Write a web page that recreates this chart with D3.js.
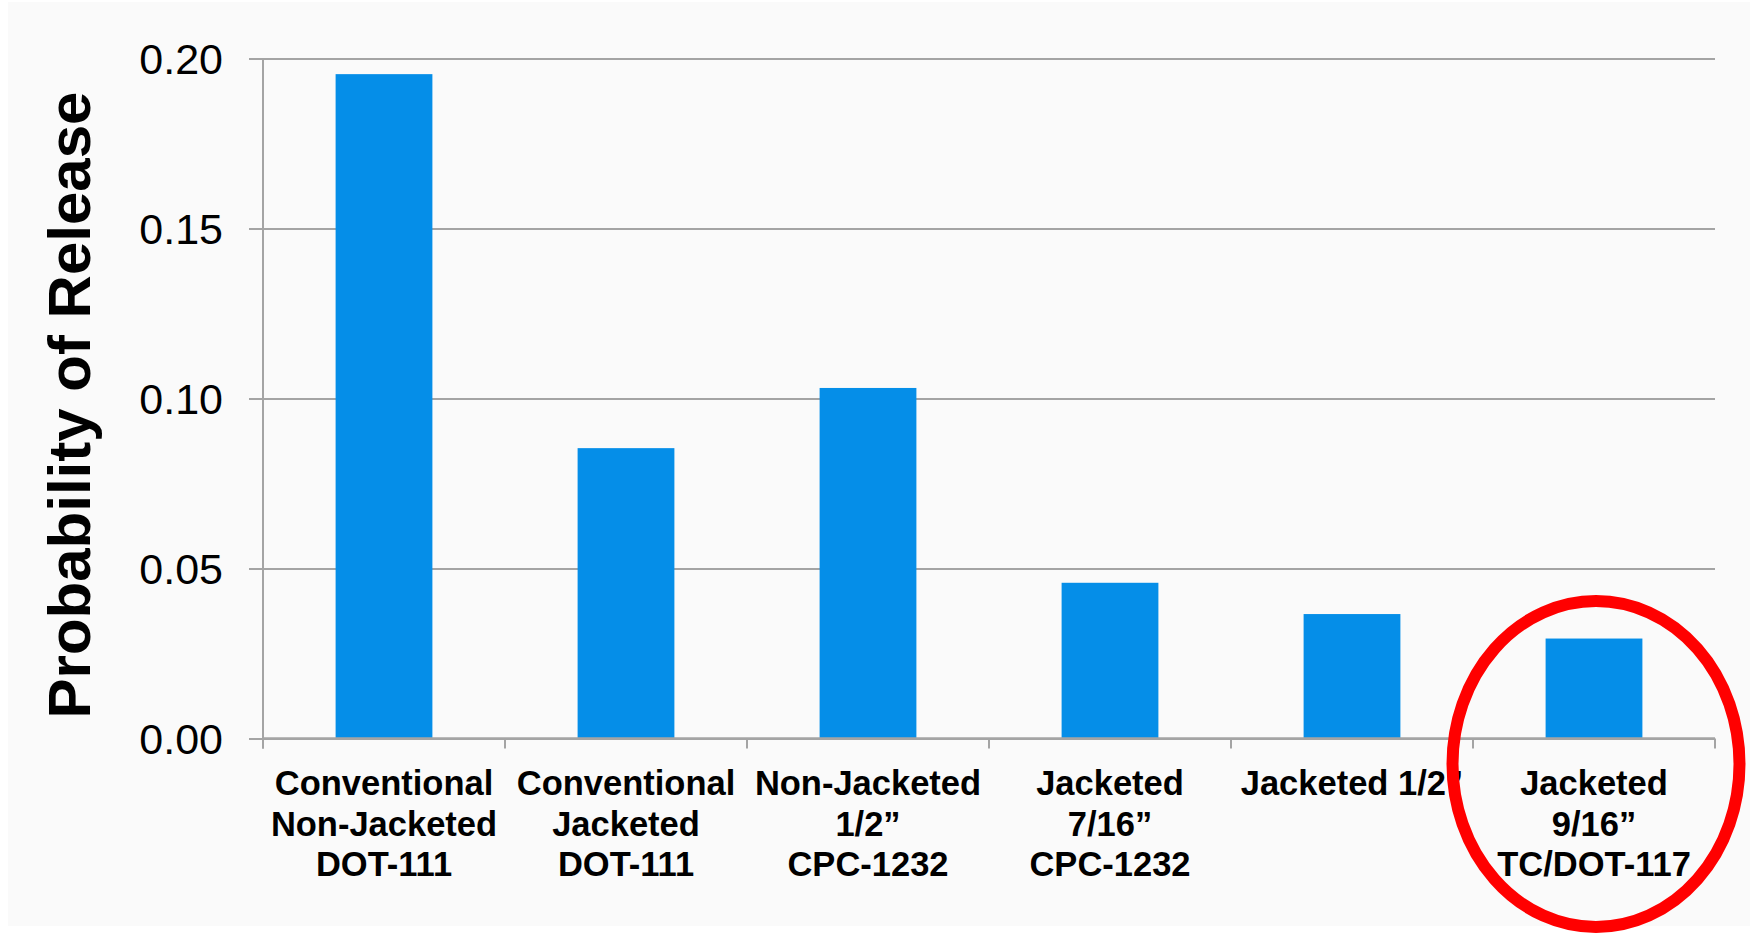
<!DOCTYPE html>
<html>
<head>
<meta charset="utf-8">
<script src="https://cdn.jsdelivr.net/npm/d3@7"></script>
<style>
  html, body { margin: 0; padding: 0; background: #ffffff; }
  svg { display: block; font-family: "Liberation Sans", Arial, Helvetica, sans-serif; }
</style>
</head>
<body>
<svg id="chart" width="1754" height="933"></svg>
<script>
// ---- data ----
const categories = [
  "Conventional Non-Jacketed DOT-111",
  "Conventional Jacketed DOT-111",
  "Non-Jacketed 1/2\u201D CPC-1232",
  "Jacketed 7/16\u201D CPC-1232",
  "Jacketed 1/2\u201D",
  "Jacketed 9/16\u201D TC/DOT-117"
];
const labelLines = [
  ["Conventional", "Non-Jacketed", "DOT-111"],
  ["Conventional", "Jacketed", "DOT-111"],
  ["Non-Jacketed", "1/2\u201D", "CPC-1232"],
  ["Jacketed", "7/16\u201D", "CPC-1232"],
  ["Jacketed 1/2\u201D"],
  ["Jacketed", "9/16\u201D", "TC/DOT-117"]
];
const values = [0.1954, 0.0854, 0.1031, 0.0458, 0.0366, 0.0294];
const yTicks = [0.00, 0.05, 0.10, 0.15, 0.20];
const yTitle = "Probability of Release";
const highlighted = "Jacketed 9/16\u201D TC/DOT-117";

// ---- layout ----
const svg = d3.select("#chart");
const plotLeft = 263, plotRight = 1715, plotTop = 58.5, plotBottom = 738.5;
const gridColor = "#a4a4a4";

svg.append("rect").attr("x", 8).attr("y", 2).attr("width", 1742).attr("height", 924).attr("fill", "#fafafa");

const x = d3.scaleBand().domain(categories).range([plotLeft, plotRight]).padding(0);
const y = d3.scaleLinear().domain([0, 0.2]).range([plotBottom, plotTop]);

// gridlines
const grid = svg.append("g").attr("transform", `translate(${plotLeft},0)`)
  .call(d3.axisLeft(y).tickValues(yTicks).tickSize(-(plotRight - plotLeft)).tickFormat(""));
grid.select(".domain").remove();
grid.selectAll(".tick line").attr("stroke", gridColor).attr("stroke-width", 2);

// y axis with outward ticks and labels
const yAxis = svg.append("g").attr("transform", `translate(${plotLeft},0)`)
  .call(d3.axisLeft(y).tickValues(yTicks).tickSize(14).tickPadding(26).tickFormat(d3.format(".2f")));
yAxis.select(".domain").remove();
yAxis.selectAll(".tick line").attr("stroke", gridColor).attr("stroke-width", 2);
yAxis.selectAll(".tick text")
  .attr("font-size", 43).attr("fill", "#000").attr("dy", "0.36em")
  .attr("font-family", "'Liberation Sans', Arial, sans-serif");

// bars
const barW = x.bandwidth() * 0.4;
svg.append("g").selectAll("rect").data(values).join("rect")
  .attr("x", (d, i) => x(categories[i]) + (x.bandwidth() - barW) / 2)
  .attr("y", d => y(d))
  .attr("width", barW)
  .attr("height", d => y(0) - y(d))
  .attr("fill", "#058ee8");

// axis lines
svg.append("line").attr("x1", plotLeft).attr("x2", plotLeft).attr("y1", y(0.2)).attr("y2", y(0) + 10)
  .attr("stroke", gridColor).attr("stroke-width", 2);
svg.append("line").attr("x1", plotLeft).attr("x2", plotRight).attr("y1", y(0)).attr("y2", y(0))
  .attr("stroke", gridColor).attr("stroke-width", 2.5);
const boundaries = categories.map(c => x(c)).concat([x.range()[1]]);
svg.append("g").selectAll("line").data(boundaries).join("line")
  .attr("x1", d => d).attr("x2", d => d)
  .attr("y1", y(0)).attr("y2", y(0) + 10)
  .attr("stroke", gridColor).attr("stroke-width", 2);

// x labels
const xl = svg.append("g").selectAll("text").data(categories).join("text")
  .attr("x", d => x(d) + x.bandwidth() / 2)
  .attr("y", 795)
  .attr("text-anchor", "middle")
  .attr("font-size", 34.5)
  .attr("font-weight", "bold")
  .attr("fill", "#000");
xl.each(function(d, i) {
  const t = d3.select(this);
  labelLines[i].forEach((ln, j) => {
    t.append("tspan").attr("x", x(d) + x.bandwidth() / 2).attr("dy", j === 0 ? 0 : 40.5).text(ln);
  });
});

// y title
svg.append("text")
  .attr("transform", "translate(90,405) rotate(-90)")
  .attr("text-anchor", "middle")
  .attr("font-size", 60)
  .attr("font-weight", "bold")
  .attr("fill", "#000")
  .text(yTitle);

// highlight ellipse
svg.append("ellipse")
  .attr("cx", x(highlighted) + x.bandwidth() / 2 + 2)
  .attr("cy", 764)
  .attr("rx", 143.5)
  .attr("ry", 163)
  .attr("fill", "none")
  .attr("stroke", "#ff0000")
  .attr("stroke-width", 12);
</script>
</body>
</html>
